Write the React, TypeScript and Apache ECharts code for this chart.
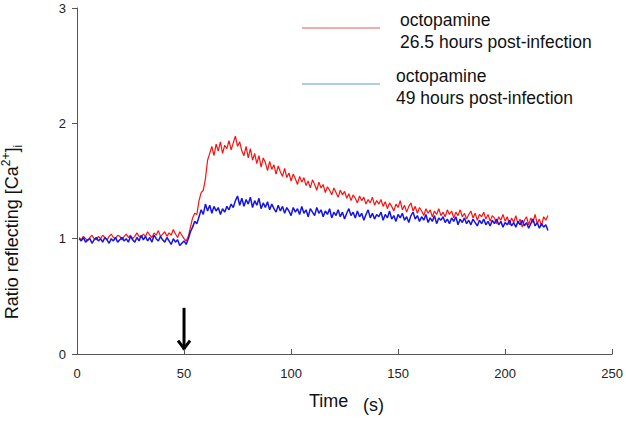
import React, { useEffect, useRef } from "react";
import * as echarts from "echarts";

// Sampling: one ratio reading per second, starting at t = 1 s
const startTime = 1;
const sampleStep = 1;

// Octopamine response, 26.5 hours post-infection
const red265h = [
  1.01, 0.99, 1.02, 1.0, 0.98, 1.01, 1.03, 1.0, 0.99, 1.02,
  1.0, 1.03, 1.01, 0.99, 1.02, 1.04, 1.01, 1.0, 1.03, 1.02,
  0.99, 1.02, 1.04, 1.01, 1.03, 1.0, 1.02, 1.05, 1.02, 1.01,
  1.04, 1.02, 1.06, 1.03, 1.01, 1.05, 1.03, 1.07, 1.02, 1.04,
  1.06, 1.02, 1.05, 1.03, 1.08, 1.04, 1.01, 1.06, 1.03, 1.0,
  0.98, 1.02, 1.1, 1.18, 1.22, 1.21, 1.33, 1.4, 1.42, 1.52,
  1.68, 1.74, 1.8, 1.72, 1.82, 1.76, 1.84, 1.74, 1.81, 1.78,
  1.85, 1.77, 1.83, 1.89, 1.8, 1.84, 1.76, 1.72, 1.8, 1.7,
  1.78, 1.68, 1.74, 1.65, 1.72, 1.62, 1.7, 1.66, 1.59, 1.67,
  1.6, 1.64, 1.56, 1.63, 1.58, 1.54, 1.61, 1.53, 1.57, 1.5,
  1.56, 1.52, 1.47, 1.54, 1.49, 1.53, 1.46, 1.5, 1.44, 1.51,
  1.47, 1.42, 1.49, 1.44, 1.47, 1.4, 1.45, 1.42, 1.38, 1.44,
  1.4, 1.36, 1.42, 1.38, 1.41, 1.35, 1.39, 1.33, 1.38, 1.35,
  1.31, 1.37, 1.33, 1.36, 1.3, 1.34, 1.31, 1.36, 1.29, 1.33,
  1.3, 1.34, 1.28, 1.32, 1.26, 1.31, 1.28, 1.24, 1.3, 1.27,
  1.33, 1.25, 1.29, 1.23, 1.28, 1.31, 1.24, 1.28, 1.22, 1.27,
  1.24, 1.2, 1.26, 1.22, 1.25, 1.19, 1.24, 1.21, 1.26, 1.2,
  1.23, 1.19, 1.25, 1.21, 1.24, 1.18, 1.23, 1.2, 1.25, 1.19,
  1.22, 1.17, 1.21, 1.24, 1.18, 1.22, 1.16, 1.21, 1.19, 1.23,
  1.17, 1.21, 1.15, 1.2, 1.18, 1.13, 1.19, 1.16, 1.21, 1.15,
  1.19, 1.12, 1.18, 1.14, 1.2, 1.13, 1.17, 1.1, 1.16, 1.19,
  1.12, 1.18, 1.14, 1.21, 1.13, 1.17, 1.11, 1.19, 1.16, 1.2,
];

// Octopamine response, 49 hours post-infection
const blue49h = [
  1.0, 0.98, 1.01, 0.97, 0.99, 1.0, 0.96, 0.99, 1.01, 0.98,
  1.0, 0.97, 1.01, 0.99, 0.96, 1.0, 0.98, 1.01, 0.97, 0.99,
  1.01, 0.98, 1.0, 0.97, 1.02, 0.99, 0.97, 1.01, 0.98, 1.03,
  0.99, 1.02, 0.98, 1.01, 0.97, 1.03, 1.0, 0.98, 1.02, 0.99,
  0.97, 1.01, 0.98, 0.95, 1.0, 0.97, 0.99, 0.94, 0.96, 0.98,
  0.95, 1.0, 1.06, 1.1, 1.15, 1.13, 1.19, 1.25, 1.21, 1.3,
  1.24, 1.29, 1.22, 1.28, 1.24, 1.27, 1.21, 1.26, 1.23, 1.28,
  1.25, 1.3, 1.27, 1.33, 1.37, 1.29, 1.35, 1.28, 1.34, 1.3,
  1.36, 1.27, 1.33, 1.29, 1.35, 1.26, 1.31, 1.27, 1.32, 1.25,
  1.3, 1.26, 1.23, 1.29, 1.24, 1.28, 1.22, 1.27, 1.24, 1.2,
  1.27, 1.23, 1.26, 1.21, 1.28, 1.22, 1.25, 1.19, 1.26, 1.23,
  1.2, 1.27, 1.22, 1.25, 1.19, 1.24, 1.21, 1.26, 1.18, 1.23,
  1.2, 1.25, 1.19, 1.23, 1.17, 1.22, 1.26, 1.2, 1.23, 1.18,
  1.24, 1.19, 1.22, 1.16, 1.21, 1.25, 1.18, 1.22, 1.17, 1.21,
  1.19, 1.23, 1.16, 1.21, 1.18, 1.24, 1.17, 1.2, 1.15, 1.21,
  1.18, 1.22, 1.16, 1.19, 1.14, 1.2, 1.23, 1.17, 1.2, 1.15,
  1.19, 1.16, 1.21, 1.14, 1.18, 1.15, 1.2, 1.13, 1.18, 1.16,
  1.19, 1.14, 1.17, 1.13, 1.18, 1.15, 1.19, 1.12, 1.17, 1.14,
  1.18, 1.13, 1.16, 1.12, 1.17, 1.14, 1.11, 1.16, 1.13, 1.17,
  1.12, 1.15, 1.11, 1.16, 1.13, 1.17, 1.12, 1.15, 1.1, 1.14,
  1.12, 1.16, 1.11, 1.14, 1.1, 1.15, 1.12, 1.16, 1.11, 1.14,
  1.09, 1.13, 1.17, 1.11, 1.14, 1.09, 1.13, 1.1, 1.12, 1.07,
];

const legendTitle = "octopamine";
const legendLabels = ["26.5 hours post-infection", "49 hours post-infection"];

// Octopamine application time and arrow extent (ratio units)
const stimulusTime = 50;
const arrowTop = 0.4;
const arrowTip = 0.03;

const FONT = "'Liberation Sans', Arial, sans-serif";

const toPairs = (vals: number[]) =>
  vals.map((v, i) => [startTime + i * sampleStep, v]);

export default function App() {
  const ref = useRef<HTMLDivElement>(null);

  useEffect(() => {
    if (!ref.current) return;
    const chart = echarts.init(ref.current, null, { renderer: "svg" });

    chart.setOption({
      animation: false,
      backgroundColor: "#ffffff",
      textStyle: { fontFamily: FONT },
      grid: { left: 77, right: 11, top: 8, bottom: 69 },
      xAxis: {
        type: "value",
        min: 0,
        max: 250,
        interval: 50,
        axisLine: { show: true, lineStyle: { color: "#555", width: 1 } },
        axisTick: { show: true, inside: true, length: 5, lineStyle: { color: "#555" } },
        axisLabel: { color: "#222", fontSize: 13, margin: 13, fontFamily: FONT },
        splitLine: { show: false },
      },
      yAxis: {
        type: "value",
        min: 0,
        max: 3,
        interval: 1,
        axisLine: { show: true, lineStyle: { color: "#555", width: 1 } },
        axisTick: { show: true, inside: false, length: 5, lineStyle: { color: "#555" } },
        axisLabel: { color: "#222", fontSize: 13, margin: 11, fontFamily: FONT },
        splitLine: { show: false },
      },
      series: [
        {
          name: "26.5 h",
          type: "line",
          data: toPairs(red265h),
          showSymbol: false,
          lineStyle: { color: "#ff1010", width: 1.2 },
          z: 2,
        },
        {
          name: "49 h",
          type: "line",
          data: toPairs(blue49h),
          showSymbol: false,
          lineStyle: { color: "#1414e6", width: 1.5 },
          z: 3,
        },
      ],
      graphic: [
        // legend
        { type: "line", shape: { x1: 302, y1: 28, x2: 380, y2: 28 }, style: { stroke: "#e8585a", lineWidth: 1.2 } },
        { type: "text", x: 400, y: 20, style: { text: legendTitle, font: `17.5px ${FONT}`, fill: "#111", verticalAlign: "middle" } },
        { type: "text", x: 400, y: 42, style: { text: legendLabels[0], font: `17.5px ${FONT}`, fill: "#111", verticalAlign: "middle" } },
        { type: "line", shape: { x1: 302, y1: 84, x2: 380, y2: 84 }, style: { stroke: "#5b9bd5", lineWidth: 1.2 } },
        { type: "text", x: 396, y: 76, style: { text: legendTitle, font: `17.5px ${FONT}`, fill: "#111", verticalAlign: "middle" } },
        { type: "text", x: 396, y: 98, style: { text: legendLabels[1], font: `17.5px ${FONT}`, fill: "#111", verticalAlign: "middle" } },
        // axis titles
        { type: "text", x: 309, y: 401, style: { text: "Time", font: `18px ${FONT}`, fill: "#111", verticalAlign: "middle" } },
        { type: "text", x: 363, y: 405, style: { text: "(s)", font: `18px ${FONT}`, fill: "#111", verticalAlign: "middle" } },
        {
          type: "text",
          x: 12,
          y: 232,
          rotation: Math.PI / 2,
          style: {
            text: "{a|Ratio reflecting [Ca}{sup|2+}{a|]}{sub|i}",
            align: "center",
            verticalAlign: "middle",
            fill: "#111",
            rich: {
              a: { fontSize: 18, fontFamily: FONT, lineHeight: 24, fill: "#111" },
              sup: { fontSize: 12, fontFamily: FONT, lineHeight: 24, verticalAlign: "top", fill: "#111" },
              sub: { fontSize: 12, fontFamily: FONT, lineHeight: 24, verticalAlign: "bottom", fill: "#111" },
            },
          },
        },
      ],
    });

    // Stimulus arrow positioned through the chart's own axis scales
    const top = chart.convertToPixel({ gridIndex: 0 }, [stimulusTime, arrowTop]) as number[];
    const tip = chart.convertToPixel({ gridIndex: 0 }, [stimulusTime, arrowTip]) as number[];
    if (top && tip) {
      chart.setOption({
        graphic: [
          {
            id: "arrowShaft",
            type: "line",
            shape: { x1: top[0], y1: top[1], x2: tip[0], y2: tip[1] - 1 },
            style: { stroke: "#000", lineWidth: 3 },
          },
          {
            id: "arrowHead",
            type: "polyline",
            shape: { points: [[tip[0] - 6, tip[1] - 10], [tip[0], tip[1] - 2], [tip[0] + 6, tip[1] - 10]] },
            style: { stroke: "#000", lineWidth: 3, fill: "none" },
          },
        ],
      });
    }

    return () => chart.dispose();
  }, []);

  return <div ref={ref} style={{ width: 626, height: 423, position: "absolute", left: 0, top: 0 }} />;
}
